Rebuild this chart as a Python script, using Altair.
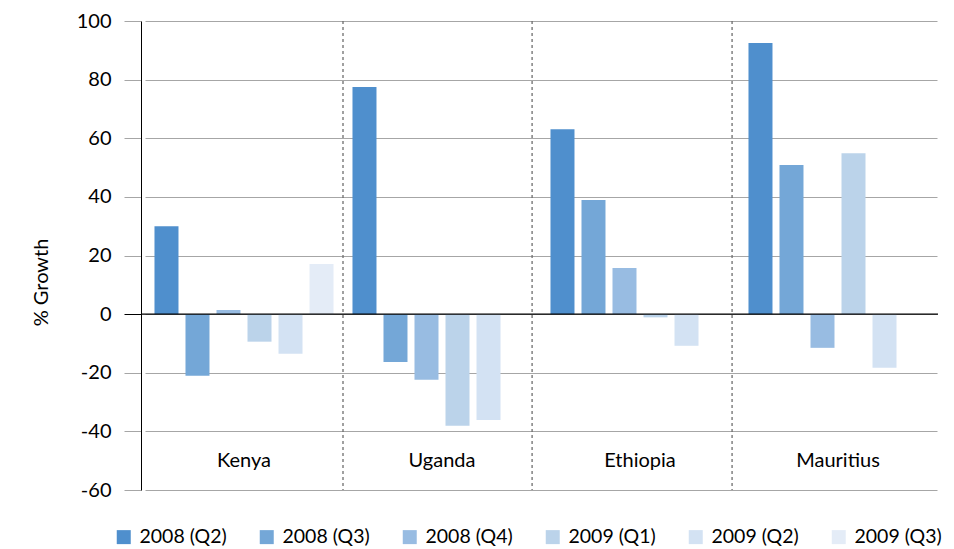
import altair as alt
import pandas as pd

countries = ["Kenya", "Uganda", "Ethiopia", "Mauritius"]
series = ["2008 (Q2)", "2008 (Q3)", "2008 (Q4)", "2009 (Q1)", "2009 (Q2)", "2009 (Q3)"]
kenya = [30.0, -21.0, 1.4, -9.4, -13.5, 17.1]
uganda = [77.5, -16.3, -22.4, -38.1, -36.1, None]
ethiopia = [63.1, 38.9, 15.7, -1.1, -10.8, None]
mauritius = [92.5, 50.9, -11.5, 54.9, -18.3, None]
colors = ["#4F8FCD", "#74A7D7", "#98BCE2", "#BBD3EA", "#D3E2F3", "#E4ECF7"]
y_ticks = [-60, -40, -20, 0, 20, 40, 60, 80, 100]
divider_positions = [1.0, 1.955, 2.965]  # in category units
label_level = -50

rows = []
for c, vals in zip(countries, [kenya, uganda, ethiopia, mauritius]):
    for s, v in zip(series, vals):
        if v is not None:
            rows.append({"country": c, "series": s, "value": v})
df = pd.DataFrame(rows)

FONT = "Lato"
W, H = 797, 469
GRID = "#A6A6A6"

xband = alt.Scale(domain=countries, range=[4, W - 1], paddingInner=0, paddingOuter=0)
yscale = alt.Scale(domain=[-60, 100], nice=False, zero=False)

bars = alt.Chart(df).mark_bar().encode(
    x=alt.X("country:N", sort=countries, scale=xband, axis=None),
    xOffset=alt.XOffset("series:N", sort=series,
                        scale=alt.Scale(domain=series, paddingInner=0.226, paddingOuter=0.306)),
    y=alt.Y("value:Q", scale=yscale,
            axis=alt.Axis(values=y_ticks, title="% Growth", titleFont=FONT, titleFontSize=20,
                          titleFontWeight="normal", titleColor="black",
                          titleAngle=270, titleAlign="center", titleBaseline="middle",
                          titleX=-100, titleY=261,
                          labelFont=FONT, labelFontSize=20, labelColor="black", labelPadding=13,
                          labelExpr="'' + datum.value",
                          tickSize=17, tickWidth=1,
                          tickColor={"condition": {"test": "datum.value === 0", "value": "black"},
                                     "value": GRID},
                          domainColor="black", domainWidth=1,
                          grid=True, gridColor=GRID, gridWidth=1)),
    color=alt.Color("series:N", sort=series, scale=alt.Scale(domain=series, range=colors),
                    legend=alt.Legend(title=None, orient="none", direction="horizontal", columns=6,
                                      legendX=-27, legendY=506, symbolType="square", symbolSize=196,
                                      symbolStrokeWidth=0, symbolOpacity=1, labelFont=FONT,
                                      labelFontSize=19.5, labelColor="black", labelOffset=6,
                                      labelLimit=200,
                                      columnPadding=30, gridAlign="all", padding=0)),
)

div_df = pd.DataFrame({"pos": divider_positions})
dividers = alt.Chart(div_df).mark_rule(color="#6E6E6E", strokeDash=[3, 3], strokeWidth=1.3).encode(
    x=alt.X("pos:Q", scale=alt.Scale(domain=[0, 4], range=[4, W - 1], nice=False, zero=False), axis=None)
)

zero_df = pd.DataFrame({"y": [0]})
zero_line = alt.Chart(zero_df).mark_rule(color="black", strokeWidth=1.2).encode(
    y=alt.Y("y:Q", scale=yscale)
)

lab_df = pd.DataFrame({"country": countries, "lv": [label_level] * len(countries)})
labels = alt.Chart(lab_df).mark_text(font=FONT, fontSize=20, color="black", baseline="middle").encode(
    x=alt.X("country:N", sort=countries, scale=xband, axis=None),
    y=alt.Y("lv:Q", scale=yscale),
    text="country:N",
)

chart = alt.layer(dividers, bars, zero_line, labels).resolve_scale(x="independent").properties(
    width=W, height=H,
    autosize=alt.AutoSizeParams(type="none"),
    padding={"left": 133, "top": 13, "right": 8, "bottom": 58},
).configure_view(stroke=None)

chart.save("out.html", embed_options={"renderer": "svg", "actions": False})
